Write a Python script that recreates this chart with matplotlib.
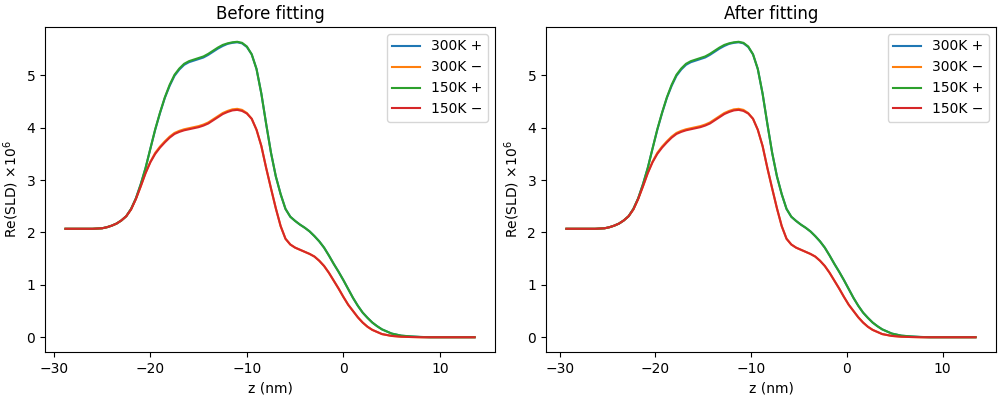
import numpy as np
import matplotlib
matplotlib.use("Agg")
import matplotlib.pyplot as plt

# Depth grid (nm) and Re(SLD) x1e6 profiles
z_before = [-28.8, -27.0, -26.0, -25.0, -24.5, -24.0, -23.5, -23.0, -22.5, -22.0,
            -21.5, -21.0, -20.5, -20.0, -19.5, -19.0, -18.5, -18.0, -17.5, -17.0,
            -16.5, -16.0, -15.5, -15.0, -14.5, -14.0, -13.5, -13.0, -12.5, -12.0,
            -11.5, -11.0, -10.5, -10.0, -9.5, -9.0, -8.5, -8.0, -7.5, -7.0,
            -6.5, -6.0, -5.5, -5.0, -4.5, -4.0, -3.5, -3.0, -2.5, -2.0,
            -1.5, -1.0, -0.5, 0.0, 0.5, 1.0, 1.5, 2.0, 2.5, 3.0,
            3.5, 4.0, 5.0, 6.0, 7.0, 8.0, 9.0, 11.0, 13.6]
z_after = [-29.3, -27.3, -26.3, -25.3, -24.8, -24.3, -23.8, -23.3, -22.8, -22.3,
           -21.8, -21.3, -20.8, -20.3, -19.8, -19.3, -18.8, -18.3, -17.8, -17.3,
           -16.8, -16.3, -15.8, -15.3, -14.8, -14.3, -13.8, -13.3, -12.8, -12.3,
           -11.8, -11.3, -10.8, -10.3, -9.8, -9.3, -8.8, -8.3, -7.8, -7.3,
           -6.8, -6.3, -5.8, -5.3, -4.8, -4.3, -3.8, -3.3, -2.8, -2.3,
           -1.8, -1.3, -0.8, -0.3, 0.2, 0.7, 1.2, 1.7, 2.2, 2.7,
           3.2, 3.7, 4.7, 5.7, 6.7, 7.7, 8.7, 10.7, 13.45]

sld_150_plus = [2.07, 2.07, 2.07, 2.08, 2.10, 2.13, 2.17, 2.23, 2.31, 2.45,
                2.65, 2.92, 3.23, 3.60, 3.97, 4.29, 4.58, 4.82, 5.01, 5.13,
                5.22, 5.27, 5.30, 5.33, 5.36, 5.41, 5.47, 5.53, 5.58, 5.61,
                5.63, 5.64, 5.62, 5.55, 5.40, 5.12, 4.65, 4.07, 3.52, 3.07,
                2.73, 2.45, 2.30, 2.22, 2.15, 2.09, 2.02, 1.93, 1.83, 1.71,
                1.56, 1.40, 1.25, 1.09, 0.92, 0.75, 0.60, 0.47, 0.37, 0.28,
                0.21, 0.15, 0.07, 0.03, 0.015, 0.005, 0.0, 0.0, 0.0]
sld_300_plus = [2.07, 2.07, 2.07, 2.08, 2.10, 2.13, 2.17, 2.23, 2.31, 2.45,
                2.65, 2.92, 3.23, 3.60, 3.96, 4.28, 4.57, 4.80, 4.99, 5.11,
                5.20, 5.25, 5.28, 5.31, 5.34, 5.39, 5.45, 5.51, 5.56, 5.60,
                5.62, 5.63, 5.61, 5.54, 5.40, 5.12, 4.65, 4.07, 3.52, 3.07,
                2.73, 2.45, 2.30, 2.22, 2.15, 2.09, 2.02, 1.93, 1.83, 1.71,
                1.56, 1.40, 1.25, 1.09, 0.92, 0.75, 0.60, 0.47, 0.37, 0.28,
                0.21, 0.15, 0.07, 0.03, 0.015, 0.005, 0.0, 0.0, 0.0]
sld_150_minus = [2.07, 2.07, 2.07, 2.08, 2.10, 2.13, 2.17, 2.23, 2.31, 2.44,
                 2.64, 2.88, 3.13, 3.34, 3.50, 3.62, 3.72, 3.81, 3.88, 3.92,
                 3.95, 3.97, 3.99, 4.01, 4.04, 4.08, 4.14, 4.20, 4.26, 4.30,
                 4.33, 4.34, 4.32, 4.27, 4.17, 3.96, 3.65, 3.23, 2.84, 2.46,
                 2.12, 1.88, 1.77, 1.71, 1.67, 1.63, 1.59, 1.54, 1.46, 1.36,
                 1.23, 1.08, 0.93, 0.77, 0.62, 0.50, 0.38, 0.28, 0.20, 0.14,
                 0.10, 0.06, 0.025, 0.01, 0.004, 0.0, 0.0, 0.0, 0.0]
sld_300_minus = [2.07, 2.07, 2.07, 2.08, 2.10, 2.13, 2.17, 2.23, 2.31, 2.44,
                 2.64, 2.88, 3.14, 3.35, 3.52, 3.64, 3.74, 3.83, 3.90, 3.94,
                 3.97, 3.99, 4.01, 4.03, 4.06, 4.10, 4.16, 4.22, 4.28, 4.32,
                 4.35, 4.36, 4.34, 4.28, 4.17, 3.96, 3.65, 3.23, 2.84, 2.46,
                 2.12, 1.88, 1.77, 1.71, 1.67, 1.63, 1.59, 1.54, 1.46, 1.36,
                 1.23, 1.08, 0.93, 0.77, 0.62, 0.50, 0.38, 0.28, 0.20, 0.14,
                 0.10, 0.06, 0.025, 0.01, 0.004, 0.0, 0.0, 0.0, 0.0]

labels = ["300K +", "300K \u2212", "150K +", "150K \u2212"]
profiles = [sld_300_plus, sld_300_minus, sld_150_plus, sld_150_minus]

fig, axes = plt.subplots(nrows=1, ncols=2, figsize=(10, 4))
for ax, z, title in zip(axes, [z_before, z_after], ["Before fitting", "After fitting"]):
    for sld, lab in zip(profiles, labels):
        ax.plot(z, sld, label=lab)
    ax.set_title(title)
    ax.set_xlabel("z (nm)")
    ax.set_ylabel("Re(SLD) \u00d710$^6$")
    ax.legend(loc="upper right")

fig.subplots_adjust(left=0.045, right=0.996, top=0.9325, bottom=0.12, wspace=0.113)
fig.savefig("out.png", dpi=100)
